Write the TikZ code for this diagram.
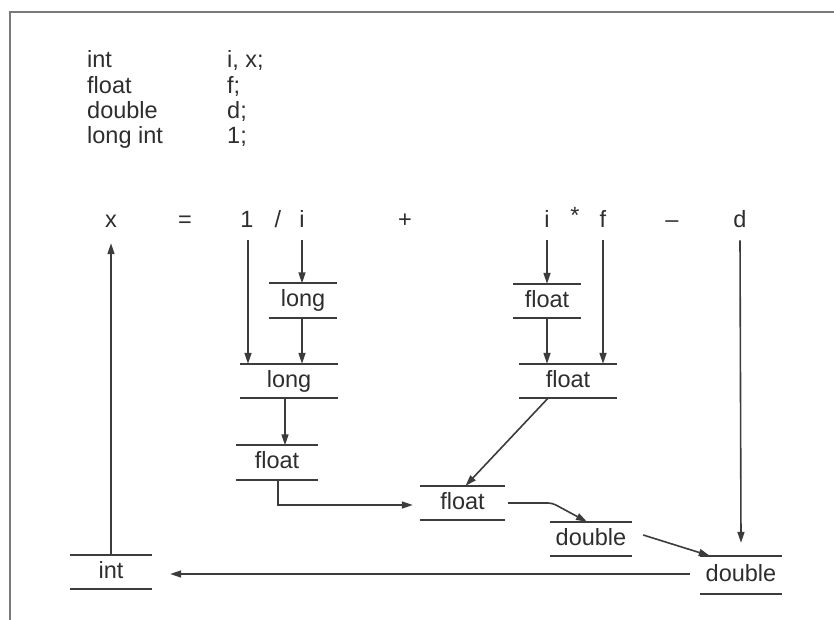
\documentclass[tikz,border=0pt]{standalone}
\usepackage{fontspec}
\setmainfont{Liberation Sans}
\usetikzlibrary{arrows.meta}
\definecolor{ink}{HTML}{2E2E2E}
\definecolor{linegray}{HTML}{3C3C3C}
\definecolor{framegray}{HTML}{7A7A7A}
\begin{document}
\begin{tikzpicture}[x=1pt,y=-1pt,
  every node/.style={font=\fontsize{23.5}{28}\selectfont, text=ink},
  tok/.style={inner sep=0pt, anchor=base},
  decl/.style={inner sep=0pt, anchor=base west},
  tbox/.style={inner sep=0pt, minimum height=34pt, text height=17pt, text depth=5pt},
  bline/.style={draw=linegray, line width=2pt},
  arr/.style={draw=linegray, line width=1.6pt, -{Triangle[length=11pt,width=7pt]}},
  frameline/.style={draw=framegray, line width=1.5pt}]
\useasboundingbox (0,0) rectangle (834,620);
\fill[white] (0,0) rectangle (834,620);
% frame
\coordinate (fa) at (10,620);
\coordinate (fb) at (10,12);
\coordinate (fc) at (834,12);
\draw[frameline] (fa) -- (fb) -- (fc);
% declarations
\node[decl] (d1a) at (87,68) {int};
\node[decl] (d1b) at (227,68) {i, x;};
\node[decl] (d2a) at (87,94) {float};
\node[decl] (d2b) at (227,94) {f;};
\node[decl] (d3a) at (87,119) {double};
\node[decl] (d3b) at (227,119) {d;};
\node[decl] (d4a) at (87,144) {long int};
\node[decl] (d4b) at (227,144) {1;};
% expression
\node[tok] (ex)    at (111,227) {x};
\node[tok] (eq)    at (185,227) {=};
\node[tok] (one)   at (247,227) {1};
\node[tok] (slash) at (278,227) {/};
\node[tok] (ia)    at (302,227) {i};
\node[tok] (plus)  at (405,227) {+};
\node[tok] (ib)    at (547,227) {i};
\node[tok] (star)  at (575,224) {*};
\node[tok] (ff)    at (603,227) {f};
\node[tok] (minus) at (672,227) {--};
\node[tok] (dd)    at (740,227) {d};
% type boxes
\node[tbox, minimum width=68pt] (longA)   at (303,300.5) {long};
\node[tbox, minimum width=98pt] (longB)   at (289,381) {long};
\node[tbox, minimum width=81pt] (floatA)  at (277,462.5) {float};
\node[tbox, minimum width=67pt] (floatI)  at (547,301) {float};
\node[tbox, minimum width=98pt] (floatIF) at (568,381) {float};
\node[tbox, minimum width=85pt] (floatM)  at (462.5,503) {float};
\node[tbox, minimum width=82pt] (doubleM) at (591,539) {double};
\node[tbox, minimum width=82pt, minimum height=38pt] (doubleR) at (741,575) {double};
\node[tbox, minimum width=82pt] (intB)    at (111,572) {int};
\foreach \n in {longA,longB,floatA,floatI,floatIF,floatM,doubleM,doubleR,intB}{
  \draw[bline] (\n.north west) -- (\n.north east) (\n.south west) -- (\n.south east);
}
% connectors
\draw[arr] (intB.north) -- ([yshift=-16pt]ex.south);
\draw[arr] ([xshift=1pt,yshift=-13pt]one.south) -- ([xshift=1pt]one.south |- longB.north);
\draw[arr] ([yshift=-13pt]ia.south) -- (ia.south |- longA.north);
\draw[arr] ([xshift=-1pt]longA.south) -- ([xshift=-1pt]longA.south |- longB.north);
\draw[arr] ([xshift=-4pt]longB.south) -- ([xshift=-4pt]longB.south |- floatA.north);
\draw[arr] ([xshift=1pt]floatA.south) |- ([xshift=-7pt,yshift=-2pt]floatM.west);
\draw[arr] ([yshift=-13pt]ib.south) -- (ib.south |- floatI.north);
\draw[arr] (floatI.south) -- (floatI.south |- floatIF.north);
\draw[arr] ([yshift=-13pt]ff.south) -- (ff.south |- floatIF.north);
\draw[arr] ([xshift=-20pt]floatIF.south) -- ([xshift=3pt]floatM.north);
\draw[arr, rounded corners=4pt] ([xshift=3pt]floatM.east) -- ++(44,0) -- ([xshift=-4pt]doubleM.north);
\draw[arr] ([xshift=11pt,yshift=4pt]doubleM.east) -- ([xshift=10pt]doubleR.north west);
\draw[arr] ([yshift=-13pt]dd.south) -- ([yshift=13pt]doubleR.north);
\draw[arr] ([xshift=-10pt,yshift=1pt]doubleR.west) -- ([xshift=18pt,yshift=-2pt]intB.east);
\end{tikzpicture}
\end{document}
